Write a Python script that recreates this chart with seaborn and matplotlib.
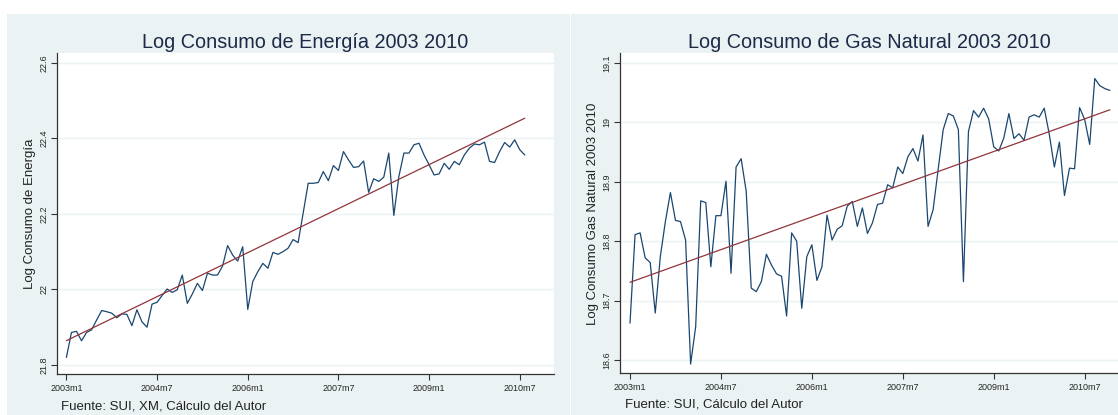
import numpy as np
import pandas as pd
import matplotlib
matplotlib.use("Agg")
import matplotlib.pyplot as plt
import seaborn as sns
from matplotlib.patches import Rectangle
from matplotlib.ticker import FixedLocator, FuncFormatter

# ---------------- data ----------------
start_label = "2003m1"
tick_labels = ["2003m1", "2004m7", "2006m1", "2007m7", "2009m1", "2010m7"]

energia = [21.820, 21.886, 21.889, 21.864, 21.886, 21.893, 21.919, 21.944, 21.941, 21.937,
           21.925, 21.935, 21.934, 21.904, 21.946, 21.914, 21.900, 21.961, 21.966, 21.984,
           22.001, 21.992, 21.999, 22.038, 21.963, 21.988, 22.016, 21.997, 22.043, 22.038,
           22.038, 22.062, 22.116, 22.091, 22.075, 22.113, 21.947, 22.021, 22.047, 22.069,
           22.056, 22.098, 22.093, 22.100, 22.109, 22.132, 22.124, 22.202, 22.281, 22.281,
           22.283, 22.312, 22.288, 22.328, 22.315, 22.365, 22.343, 22.323, 22.325, 22.340,
           22.257, 22.293, 22.286, 22.297, 22.361, 22.196, 22.299, 22.361, 22.361, 22.383,
           22.387, 22.356, 22.330, 22.303, 22.306, 22.334, 22.318, 22.339, 22.330, 22.356,
           22.374, 22.385, 22.383, 22.390, 22.339, 22.336, 22.365, 22.389, 22.377, 22.396,
           22.370, 22.356]

gas = [18.662, 18.811, 18.814, 18.772, 18.764, 18.679, 18.774, 18.833, 18.882, 18.835,
       18.833, 18.802, 18.593, 18.656, 18.868, 18.865, 18.757, 18.843, 18.843, 18.901,
       18.746, 18.925, 18.939, 18.884, 18.721, 18.715, 18.732, 18.778, 18.760, 18.745,
       18.741, 18.674, 18.814, 18.800, 18.687, 18.774, 18.794, 18.734, 18.757, 18.844,
       18.802, 18.820, 18.826, 18.859, 18.867, 18.825, 18.856, 18.813, 18.831, 18.862,
       18.864, 18.895, 18.890, 18.925, 18.914, 18.942, 18.956, 18.935, 18.979, 18.825,
       18.853, 18.921, 18.988, 19.015, 19.011, 18.988, 18.732, 18.985, 19.020, 19.009,
       19.024, 19.006, 18.959, 18.952, 18.974, 19.015, 18.973, 18.981, 18.970, 19.009,
       19.013, 19.009, 19.024, 18.980, 18.925, 18.967, 18.877, 18.923, 18.922, 19.025,
       19.005, 18.963, 19.074, 19.062, 19.057, 19.054]

titles = ["Log Consumo de Energía 2003 2010", "Log Consumo de Gas Natural 2003 2010"]
ylabels = ["Log Consumo de Energía", "Log Consumo Gas Natural 2003 2010"]
sources = ["Fuente: SUI, XM, Cálculo del Autor", "Fuente: SUI, Cálculo del Autor"]
yticks_e = [21.8, 22.0, 22.2, 22.4, 22.6]
yticks_g = [18.6, 18.7, 18.8, 18.9, 19.0, 19.1]


def month_index(lbl):
    y, m = lbl.split("m")
    y0, m0 = start_label.split("m")
    return (int(y) - int(y0)) * 12 + int(m) - int(m0)


tick_pos = [month_index(t) for t in tick_labels]

df_e = pd.DataFrame({"t": np.arange(len(energia)), "v": energia})
df_g = pd.DataFrame({"t": np.arange(len(gas)), "v": gas})

# ---------------- style ----------------
sns.set_theme(style="white")
plt.rcParams["font.family"] = ["Liberation Sans", "DejaVu Sans"]

W, H = 1118, 415
fig = plt.figure(figsize=(W / 100, H / 100), dpi=100)
fig.patch.set_facecolor("white")

BG = "#eaf2f3"
NAVY = "#1a476f"
MAROON = "#90353b"
TITLE_C = "#1c2a48"


def px_rect(x0, y0, x1, y1):
    return [x0 / W, 1 - y1 / H, (x1 - x0) / W, (y1 - y0) / H]


# panel backgrounds
for (x0, x1) in [(7, 570), (571, 1118)]:
    fig.patches.append(Rectangle((x0 / W, 0), (x1 - x0) / W, 1 - 14 / H,
                                 transform=fig.transFigure, facecolor=BG,
                                 edgecolor="none", zorder=-10))

ax1 = fig.add_axes(px_rect(57, 53, 554, 374))
ax2 = fig.add_axes(px_rect(620, 53, 1118, 373))
ax1.set_zorder(5)
ax2.set_zorder(5)

configs = [
    (ax1, df_e, yticks_e, (21.776, 22.626), (-1.87, 96.8), 305.5, 30, 61, 406),
    (ax2, df_g, yticks_g, (18.578, 19.117), (-1.98, 96.6), 869.0, 593, 625, 404),
]

for i, (ax, df, yt, ylim, xlim, tcx, ylx, srcx, srcy) in enumerate(configs):
    ax.set_facecolor("white")
    for yv in yt:
        ax.axhline(yv, color=BG, lw=1.0, zorder=0)
    sns.lineplot(data=df, x="t", y="v", ax=ax, color=NAVY, lw=0.9, zorder=2)
    sns.regplot(data=df, x="t", y="v", ax=ax, scatter=False, ci=None, truncate=True,
                line_kws=dict(color=MAROON, lw=0.9, zorder=3))
    ax.set_xlim(*xlim)
    ax.set_ylim(*ylim)
    ax.xaxis.set_major_locator(FixedLocator(tick_pos))
    ax.set_xticklabels(tick_labels)
    ax.yaxis.set_major_locator(FixedLocator(yt))
    ax.yaxis.set_major_formatter(FuncFormatter(lambda v, p: f"{v:g}"))
    ax.tick_params(axis="x", labelsize=6.5, length=4, width=0.8, color="#333333",
                   direction="out", pad=3, bottom=True)
    ax.tick_params(axis="y", labelsize=6.5, length=4, width=0.8, color="#333333",
                   direction="out", pad=2, left=True, labelrotation=90)
    for lab in ax.get_yticklabels():
        lab.set_va("center")
    ax.set_xlabel("")
    ax.set_ylabel("")
    for s in ["top", "right"]:
        ax.spines[s].set_visible(False)
    for s in ["left", "bottom"]:
        ax.spines[s].set_color("#333333")
        ax.spines[s].set_linewidth(0.9)
    ax.grid(False)

    fig.text(tcx / W, 1 - 42 / H, titles[i], ha="center", va="center",
             fontsize=14.3, color=TITLE_C)
    ymid = (53 + 374) / 2
    fig.text(ylx / W, 1 - ymid / H, ylabels[i], ha="center", va="center",
             rotation=90, fontsize=9.5, color="#222222")
    fig.text(srcx / W, 1 - srcy / H, sources[i], ha="left", va="center",
             fontsize=9.5, color="#222222")

fig.savefig("out.png", dpi=100, facecolor="white")
